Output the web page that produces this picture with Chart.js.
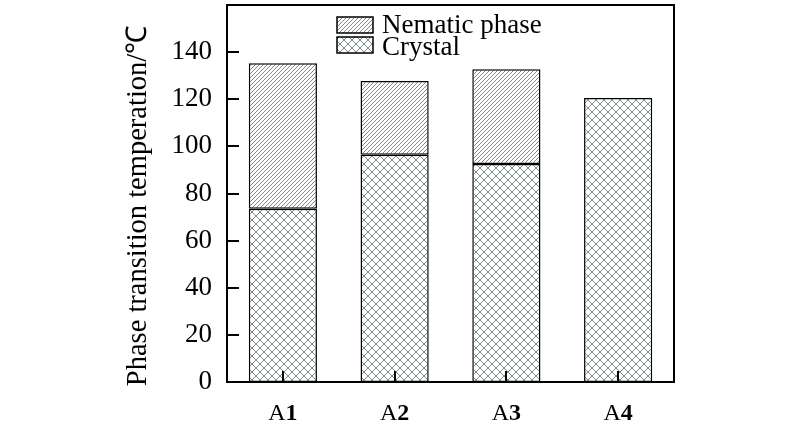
<!DOCTYPE html>
<html>
<head>
<meta charset="utf-8">
<script src="https://cdn.jsdelivr.net/npm/chart.js@4.4.1/dist/chart.umd.min.js"></script>
<style>
html,body{margin:0;padding:0;background:#fff;}
#wrap{width:800px;height:426px;}
</style>
</head>
<body>
<div id="wrap"><canvas id="c" width="800" height="426"></canvas></div>
<script>
const categories = ['A1', 'A2', 'A3', 'A4'];
const crystal = [73.5, 96.4, 92.5, 120.5];
const nematic = [61.8, 31.3, 40.2, 0];
const seriesNames = ['Crystal', 'Nematic phase'];
const yTicks = [0, 20, 40, 60, 80, 100, 120, 140];
const yTitle = 'Phase transition temperation/\u2103';
const SERIF = '"Liberation Serif", "Times New Roman", serif';

function makeHatch() {
  const s = 4;
  const c = document.createElement('canvas');
  c.width = s; c.height = s;
  const g = c.getContext('2d');
  g.fillStyle = '#fff'; g.fillRect(0, 0, s, s);
  g.strokeStyle = '#808888'; g.lineWidth = 1;
  g.beginPath();
  g.moveTo(0, s); g.lineTo(s, 0);
  g.moveTo(-1, 1); g.lineTo(1, -1);
  g.moveTo(s - 1, s + 1); g.lineTo(s + 1, s - 1);
  g.stroke();
  return g.createPattern(c, 'repeat');
}
function makeCross() {
  const s = 8;
  const c = document.createElement('canvas');
  c.width = s; c.height = s;
  const g = c.getContext('2d');
  g.fillStyle = '#fff'; g.fillRect(0, 0, s, s);
  g.strokeStyle = '#7a8c8c'; g.lineWidth = 1;
  g.beginPath();
  g.moveTo(0, 0); g.lineTo(s, s);
  g.moveTo(0, s); g.lineTo(s, 0);
  g.stroke();
  return g.createPattern(c, 'repeat');
}
const hatch = makeHatch();
const cross = makeCross();

const framePlugin = {
  id: 'frame',
  afterDraw(chart) {
    const ctx = chart.ctx, a = chart.chartArea;
    const ys = chart.scales.y, xs = chart.scales.x;
    ctx.save();
    ctx.strokeStyle = '#000';
    ctx.lineWidth = 2;
    ctx.strokeRect(a.left, a.top, a.right - a.left, a.bottom - a.top);
    ctx.beginPath();
    yTicks.forEach(v => {
      if (v === 0) return;
      const y = Math.round(ys.getPixelForValue(v));
      ctx.moveTo(a.left, y); ctx.lineTo(a.left + 12, y);
    });
    categories.forEach((c, i) => {
      const x = Math.round(xs.getPixelForValue(i));
      ctx.moveTo(x, a.bottom); ctx.lineTo(x, a.bottom - 11);
    });
    ctx.stroke();
    // x category labels: letter regular, digit bold
    ctx.fillStyle = '#000';
    ctx.textBaseline = 'alphabetic';
    categories.forEach((c, i) => {
      const x = xs.getPixelForValue(i);
      const p1 = c.slice(0, 1), p2 = c.slice(1);
      ctx.font = '24px ' + SERIF;
      const w1 = ctx.measureText(p1).width;
      ctx.font = 'bold 24px ' + SERIF;
      const w2 = ctx.measureText(p2).width;
      const sx = x - (w1 + w2) / 2;
      ctx.textAlign = 'left';
      ctx.font = '24px ' + SERIF;
      ctx.fillText(p1, sx, a.bottom + 38);
      ctx.font = 'bold 24px ' + SERIF;
      ctx.fillText(p2, sx + w1, a.bottom + 38);
    });
    // y title
    ctx.save();
    ctx.translate(139, 206);
    ctx.rotate(-Math.PI / 2);
    ctx.font = '28.5px ' + SERIF;
    ctx.textAlign = 'center';
    ctx.textBaseline = 'middle';
    ctx.fillText(yTitle, 0, 0);
    ctx.restore();
    // legend
    const items = [
      { label: seriesNames[1], fill: hatch },
      { label: seriesNames[0], fill: cross }
    ];
    const bx = 337, bw = 36, bh = 16;
    const tops = [17, 37];
    const bases = [33, 55];
    ctx.font = '27px ' + SERIF;
    ctx.textAlign = 'left';
    ctx.textBaseline = 'alphabetic';
    items.forEach((it, i) => {
      const ty = tops[i];
      ctx.fillStyle = it.fill;
      ctx.fillRect(bx, ty, bw, bh);
      ctx.lineWidth = 1.5;
      ctx.strokeStyle = '#000';
      ctx.strokeRect(bx, ty, bw, bh);
      ctx.fillStyle = '#000';
      ctx.fillText(it.label, bx + 45, bases[i]);
    });
    ctx.restore();
  }
};

new Chart(document.getElementById('c'), {
  type: 'bar',
  data: {
    labels: categories,
    datasets: [
      { label: seriesNames[0], data: crystal, backgroundColor: cross, borderColor: '#000', borderWidth: 1.5, borderSkipped: false, barPercentage: 0.61, categoryPercentage: 1 },
      { label: seriesNames[1], data: nematic, backgroundColor: hatch, borderColor: '#000', borderWidth: 1.5, borderSkipped: false, barPercentage: 0.61, categoryPercentage: 1 }
    ]
  },
  options: {
    responsive: false,
    animation: false,
    devicePixelRatio: 1,
    layout: { padding: { left: 126, right: 126, top: 5, bottom: 0 } },
    plugins: { legend: { display: false }, tooltip: { enabled: false } },
    scales: {
      x: {
        stacked: true,
        grid: { display: false, drawTicks: false },
        border: { display: false },
        ticks: { display: false },
        afterFit(s) { s.height = 44; s.paddingLeft = 0; s.paddingRight = 0; }
      },
      y: {
        stacked: true,
        min: 0, max: 160,
        grid: { display: false, drawTicks: false },
        border: { display: false },
        ticks: {
          stepSize: 20, color: '#000', padding: 15,
          font: { family: SERIF, size: 27 },
          callback: v => yTicks.includes(v) ? String(v) : ''
        },
        title: { display: false },
        afterFit(s) { s.width = 101; s.paddingTop = 0; s.paddingBottom = 0; }
      }
    }
  },
  plugins: [framePlugin]
});
</script>
</body>
</html>
